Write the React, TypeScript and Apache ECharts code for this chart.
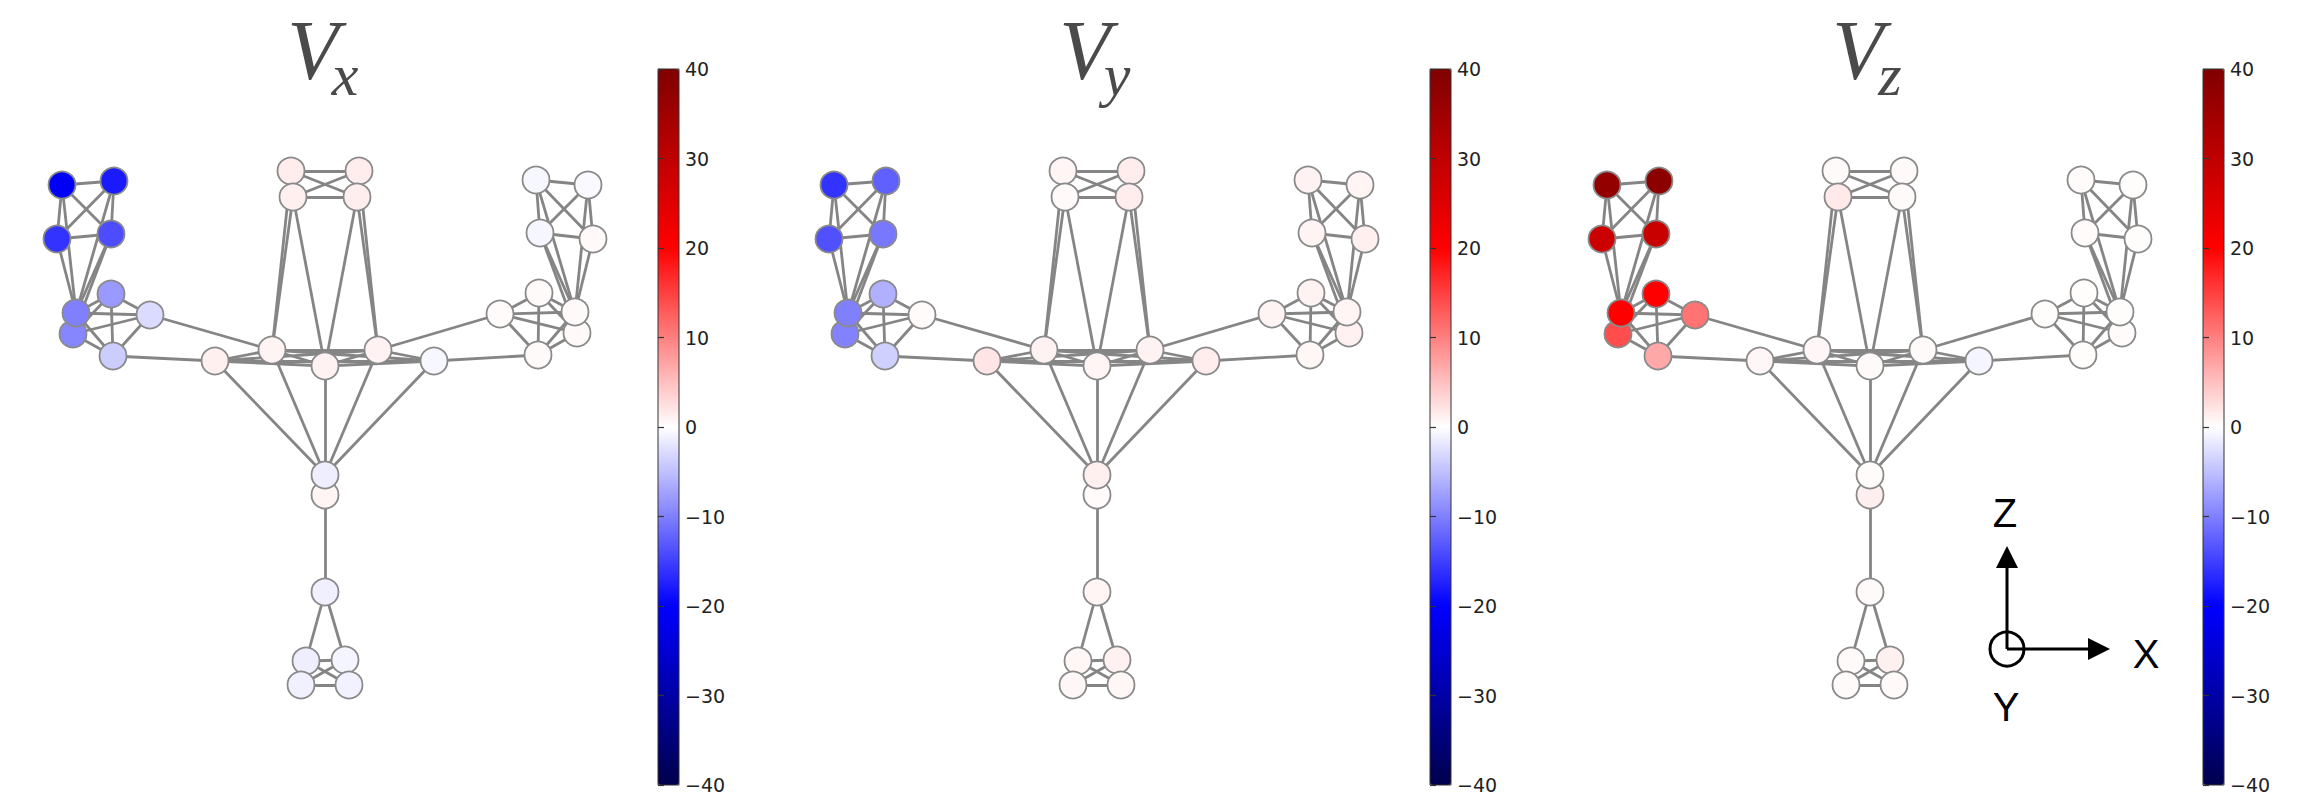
import React, { useEffect, useRef } from "react";
import * as echarts from "echarts";

// Skeleton joints: horizontal position (x) and height (z), in layout units
const nodeNames = [
  "L1", "L2", "L3", "L4", "L5", "L7", "L6", "L8", "L9",
  "R1", "R2", "R3", "R4", "R5", "R7", "R6", "R8", "R9",
  "H1", "H2", "H3", "H4",
  "C1", "C2", "C3", "C4", "C5",
  "S2", "S1", "S3",
  "F1", "F2", "F3", "F4",
];
const nodeX = [
  -263, -211, -268, -214, -214, -252, -249, -175, -212,
  263, 211, 268, 215, 214, 252, 250, 175, 213,
  -34, 34, -32, 32,
  -110, -53, 0, 53, 109,
  0, 0, 0,
  -19, 20, -24, 24,
];
const nodeZ = [
  615, 619, 561, 566, 506, 466, 487, 485, 444,
  615, 620, 561, 567, 507, 467, 488, 486, 445,
  629, 629, 603, 603,
  439, 450, 434, 450, 439,
  305, 325, 208,
  139, 140, 115, 115,
];

// Node values per component
const vx = [
  -21, -18, -16, -14, -8, -9.5, -10, -2.8, -4,
  -0.5, -0.6, 0.5, -0.7, 0.4, 0.5, 0.4, 0.3, 0.4,
  1.5, 1.4, 1.2, 1.3,
  1.2, 0.9, 1.0, 1.0, -0.6,
  0.8, -1.3, -1.2,
  -1.3, -0.8, -1.2, -1.1,
];
const vy = [
  -16, -12.5, -13.7, -10.6, -6.2, -9.8, -10, 0.3, -3.7,
  0.8, 1.0, 1.2, 0.9, 1.0, 1.1, 0.8, 0.9, 0.7,
  0.8, 1.4, 0.5, 1.4,
  2.0, 1.0, 0.8, 1.0, 1.4,
  0.3, 1.2, 0.8,
  0.7, 1.1, 0.6, 0.7,
];
const vz = [
  37, 38, 28, 28.5, 20, 14, 20, 11, 6.8,
  0.2, 0.3, 0.2, 0.3, 0.2, 0.3, 0.2, 0.2, 0.2,
  0.4, 0.4, 1.7, 0.4,
  0.6, 0.6, 0.4, 0.4, -0.8,
  1.3, 0.3, 0.4,
  0.4, 1.2, 0.4, 0.5,
];

const links: [string, string][] = [
  // left hand
  ["L1", "L2"], ["L1", "L3"], ["L1", "L4"], ["L2", "L3"], ["L2", "L4"], ["L3", "L4"],
  ["L1", "L6"], ["L2", "L6"], ["L3", "L6"], ["L4", "L6"], ["L4", "L7"],
  ["L5", "L6"], ["L5", "L7"], ["L5", "L8"], ["L5", "L9"], ["L6", "L7"],
  ["L6", "L8"], ["L6", "L9"], ["L7", "L8"], ["L7", "L9"], ["L8", "L9"],
  ["L8", "C2"], ["L9", "C1"],
  // right hand
  ["R1", "R2"], ["R1", "R3"], ["R1", "R4"], ["R2", "R3"], ["R2", "R4"], ["R3", "R4"],
  ["R1", "R6"], ["R2", "R6"], ["R3", "R6"], ["R4", "R6"], ["R4", "R7"],
  ["R5", "R6"], ["R5", "R7"], ["R5", "R8"], ["R5", "R9"], ["R6", "R7"],
  ["R6", "R8"], ["R6", "R9"], ["R7", "R8"], ["R7", "R9"], ["R8", "R9"],
  ["R8", "C4"], ["R9", "C5"],
  // head
  ["H1", "H2"], ["H1", "H3"], ["H1", "H4"], ["H2", "H3"], ["H2", "H4"], ["H3", "H4"],
  ["H1", "C2"], ["H3", "C2"], ["H3", "C3"], ["H2", "C4"], ["H4", "C4"], ["H4", "C3"],
  // hub
  ["C1", "C2"], ["C1", "C3"], ["C1", "C4"], ["C1", "C5"], ["C2", "C3"],
  ["C2", "C4"], ["C2", "C5"], ["C3", "C4"], ["C3", "C5"], ["C4", "C5"],
  // spine
  ["C1", "S1"], ["C2", "S1"], ["C3", "S1"], ["C4", "S1"], ["C5", "S1"],
  ["S1", "S2"], ["S2", "S3"],
  // foot
  ["S3", "F1"], ["S3", "F2"],
  ["F1", "F2"], ["F1", "F3"], ["F1", "F4"], ["F2", "F3"], ["F2", "F4"], ["F3", "F4"],
];

const panelSubs = ["x", "y", "z"];
const panelValues = [vx, vy, vz];
const colorMin = -40;
const colorMax = 40;
const colorInterval = 10;
const seismic = ["#00004d", "#0000ff", "#ffffff", "#ff0000", "#800000"];

const panelOffsets = [0, 772, 1545];

export default function App() {
  const ref = useRef<HTMLDivElement>(null);
  useEffect(() => {
    if (!ref.current) return;
    const chart = echarts.init(ref.current, undefined, { renderer: "svg" });

    const grids: any[] = [];
    const xAxes: any[] = [];
    const yAxes: any[] = [];
    const series: any[] = [];
    const visualMaps: any[] = [];
    const graphics: any[] = [];

    // edge graphs (series 0..2)
    panelOffsets.forEach((off, p) => {
      grids.push({ left: 25 + off, top: 0, width: 600, height: 800 });
      xAxes.push({ type: "value", gridIndex: p, min: -300, max: 300, show: false });
      yAxes.push({ type: "value", gridIndex: p, min: 0, max: 800, show: false });
      series.push({
        type: "graph",
        coordinateSystem: "cartesian2d",
        xAxisIndex: p,
        yAxisIndex: p,
        layout: "none",
        symbol: "circle",
        symbolSize: 2,
        silent: true,
        z: 2,
        label: { show: false },
        itemStyle: { opacity: 0 },
        lineStyle: { color: "#858585", width: 2.8, opacity: 1, curveness: 0 },
        edgeSymbol: ["none", "none"],
        data: nodeNames.map((n, i) => ({ name: n, value: [nodeX[i], nodeZ[i]] })),
        links: links.map(([s, t]) => ({ source: s, target: t })),
      });
    });

    // nodes coloured by value (series 3..5)
    panelOffsets.forEach((off, p) => {
      const vals = panelValues[p];
      series.push({
        type: "scatter",
        xAxisIndex: p,
        yAxisIndex: p,
        symbol: "circle",
        symbolSize: 27,
        silent: true,
        z: 3,
        itemStyle: { borderColor: "#8a8a8a", borderWidth: 1.8, opacity: 1 },
        data: nodeNames.map((n, i) => [nodeX[i], nodeZ[i], vals[i]]),
      });
      visualMaps.push({
        type: "continuous",
        seriesIndex: 3 + p,
        dimension: 2,
        min: colorMin,
        max: colorMax,
        calculable: false,
        hoverLink: false,
        show: true,
        orient: "vertical",
        left: 658 + off,
        top: 69,
        itemWidth: 21,
        itemHeight: 716,
        padding: 0,
        z: 2,
        inRange: { color: seismic },
      });
    });

    // colorbar axes
    panelOffsets.forEach((off, p) => {
      const gi = 3 + p;
      grids.push({
        left: 658 + off,
        top: 69,
        width: 21,
        height: 716,
        show: true,
        borderColor: "#333",
        borderWidth: 1,
        backgroundColor: "transparent",
        z: 6,
      });
      xAxes.push({ type: "value", gridIndex: gi, min: 0, max: 1, show: false });
      yAxes.push({
        type: "value",
        gridIndex: gi,
        position: "right",
        min: colorMin,
        max: colorMax,
        interval: colorInterval,
        z: 6,
        axisLine: { show: false },
        axisTick: { show: true, length: 6, lineStyle: { color: "#333", width: 1.2 } },
        splitLine: { show: false },
        axisLabel: {
          fontSize: 19,
          color: "#222",
          margin: 6,
          fontFamily: "DejaVu Sans",
          formatter: (v: number) => String(v).replace("-", "\u2212"),
        },
      });
      series.push({ type: "line", xAxisIndex: gi, yAxisIndex: gi, data: [], silent: true });

      graphics.push({
        type: "text",
        x: 313 + off,
        y: 50,
        style: {
          text: "V",
          fontFamily: "Liberation Serif",
          fontStyle: "italic",
          fontSize: 84,
          lineHeight: 70,
          fill: "#4a4a4a",
          align: "center",
          verticalAlign: "middle",
        },
      });
      graphics.push({
        type: "text",
        x: 345 + off,
        y: 75,
        style: {
          text: panelSubs[p],
          fontFamily: "Liberation Serif",
          fontStyle: "italic",
          fontSize: 60,
          lineHeight: 50,
          fill: "#4a4a4a",
          align: "center",
          verticalAlign: "middle",
        },
      });
    });

    // orientation indicator
    const ax = 2007;
    const ay = 649;
    graphics.push(
      { type: "line", shape: { x1: ax, y1: ay, x2: ax, y2: 566 }, style: { stroke: "#000", lineWidth: 3 } },
      { type: "polygon", shape: { points: [[ax - 11, 568], [ax + 11, 568], [ax, 546]] }, style: { fill: "#000" } },
      { type: "line", shape: { x1: ax, y1: ay, x2: 2090, y2: ay }, style: { stroke: "#000", lineWidth: 3 } },
      { type: "polygon", shape: { points: [[2088, ay - 11], [2088, ay + 11], [2110, ay]] }, style: { fill: "#000" } },
      { type: "circle", shape: { cx: ax, cy: ay, r: 17 }, style: { fill: "none", stroke: "#000", lineWidth: 3 } },
      { type: "text", x: 2005, y: 513, style: { text: "Z", fontFamily: "Liberation Sans", fontSize: 40, fill: "#000", align: "center", verticalAlign: "middle" } },
      { type: "text", x: 2146, y: 654, style: { text: "X", fontFamily: "Liberation Sans", fontSize: 40, fill: "#000", align: "center", verticalAlign: "middle" } },
      { type: "text", x: 2006, y: 707, style: { text: "Y", fontFamily: "Liberation Sans", fontSize: 40, fill: "#000", align: "center", verticalAlign: "middle" } }
    );

    chart.setOption({
      animation: false,
      backgroundColor: "#ffffff",
      grid: grids,
      xAxis: xAxes,
      yAxis: yAxes,
      visualMap: visualMaps,
      series,
      graphic: graphics,
    });
    return () => chart.dispose();
  }, []);
  return (
    <div
      ref={ref}
      style={{ position: "fixed", left: 0, top: 0, width: 2322, height: 802, background: "#fff" }}
    />
  );
}
